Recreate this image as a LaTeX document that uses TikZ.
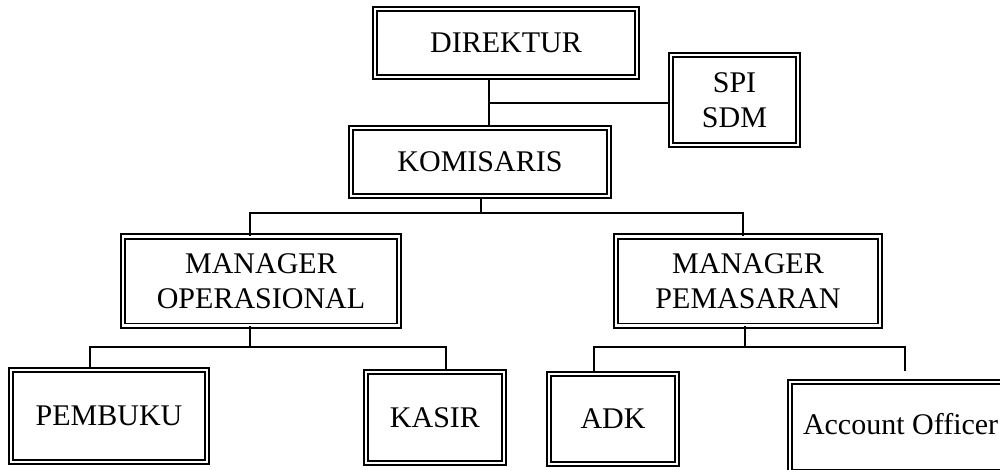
\documentclass[tikz,border=0pt]{standalone}
\usepackage{fontspec}
\setmainfont{Liberation Serif}
\begin{document}
\begin{tikzpicture}[x=1pt,y=-1pt,
  box/.style={draw=black, line width=1.6pt, double=white, double distance=2.8pt,
    inner sep=0pt, align=center, font=\fontsize{30}{35}\selectfont},
  conn/.style={draw=black, line width=1.5pt}]
\useasboundingbox (0,0) rectangle (1000,470);
\clip (0,0) rectangle (1000,470);
% boxes (centre, outer size minus 6)
\node[box, minimum width=262pt, minimum height=68pt] (dir) at (506,43) {DIREKTUR};
\node[box, minimum width=127pt, minimum height=90pt] (spi) at (734.5,100) {SPI\\SDM};
\node[box, minimum width=258pt, minimum height=68pt] (kom) at (480,162) {KOMISARIS};
\node[box, minimum width=276pt, minimum height=89pt] (mo) at (261,281) {MANAGER\\OPERASIONAL};
\node[box, minimum width=264pt, minimum height=89pt] (mp) at (748,281) {MANAGER\\PEMASARAN};
\node[box, minimum width=196pt, minimum height=92pt] (pem) at (109,416) {PEMBUKU};
\node[box, minimum width=138pt, minimum height=91pt] (kas) at (435,417.5) {KASIR};
\node[box, minimum width=128pt, minimum height=90pt] (adk) at (613,419) {ADK};
\node[box, minimum width=230pt, minimum height=90pt] (ao) at (905,427)
  {\makebox[226pt][l]{\hspace{11pt}\raisebox{6pt}{Account Officer}}};
% junction coordinates
\coordinate (c1) at (489,103);
\coordinate (b1) at (481,213);
\coordinate (bL) at (250,213);
\coordinate (bR) at (743,213);
\coordinate (o1) at (250,347);
\coordinate (oL) at (90,347);
\coordinate (oR) at (446,347);
\coordinate (p1) at (745,347);
\coordinate (pL) at (594,347);
\coordinate (pR) at (905,347);
\coordinate (aoend) at (905,371);
% connectors
\draw[conn] (dir.south -| c1) -- (kom.north -| c1);
\draw[conn] (c1) -- (spi.west |- c1);
\draw[conn] (kom.south -| b1) -- (b1);
\draw[conn] (mo.north -| bL) -- (bL) -- (bR) -- (mp.north -| bR);
\draw[conn] (mo.south -| o1) -- (o1);
\draw[conn] (pem.north -| oL) -- (oL) -- (oR) -- (kas.north -| oR);
\draw[conn] (mp.south -| p1) -- (p1);
\draw[conn] (adk.north -| pL) -- (pL) -- (pR) -- (aoend);
\end{tikzpicture}
\end{document}
